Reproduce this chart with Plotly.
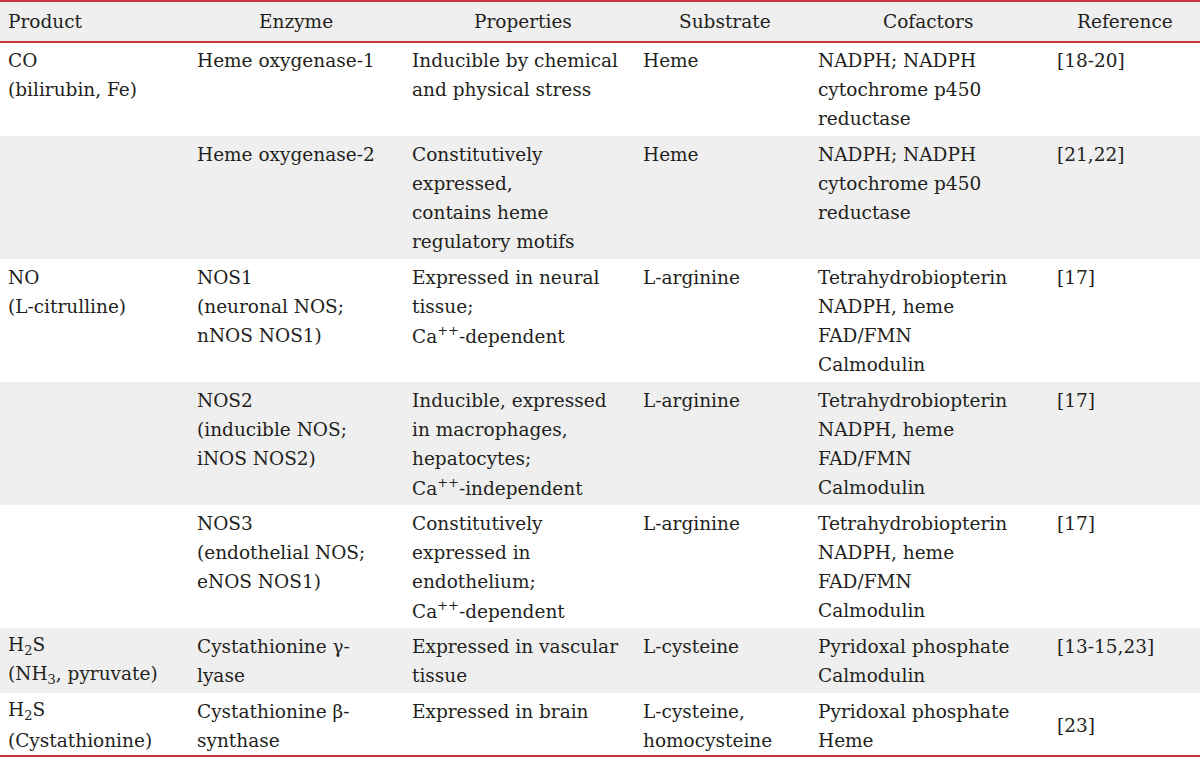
import plotly.graph_objects as go

# ---- data ----
headers = ["Product", "Enzyme", "Properties", "Substrate", "Cofactors", "Reference"]
products = ["CO<br>(bilirubin, Fe)", "", "NO<br>(L-citrulline)", "", "",
            "H<sub>2</sub>S<br>(NH<sub>3</sub>, pyruvate)", "H<sub>2</sub>S<br>(Cystathionine)"]
enzymes = ["Heme oxygenase-1", "Heme oxygenase-2",
           "NOS1<br>(neuronal NOS;<br>nNOS NOS1)",
           "NOS2<br>(inducible NOS;<br>iNOS NOS2)",
           "NOS3<br>(endothelial NOS;<br>eNOS NOS1)",
           "Cystathionine γ-<br>lyase", "Cystathionine β-<br>synthase"]
properties = ["Inducible by chemical<br>and physical stress",
              "Constitutively<br>expressed,<br>contains heme<br>regulatory motifs",
              "Expressed in neural<br>tissue;<br>Ca<sup>++</sup>-dependent",
              "Inducible, expressed<br>in macrophages,<br>hepatocytes;<br>Ca<sup>++</sup>-independent",
              "Constitutively<br>expressed in<br>endothelium;<br>Ca<sup>++</sup>-dependent",
              "Expressed in vascular<br>tissue", "Expressed in brain"]
substrates = ["Heme", "Heme", "L-arginine", "L-arginine", "L-arginine", "L-cysteine",
              "L-cysteine,<br>homocysteine"]
cofactors = ["NADPH; NADPH<br>cytochrome p450<br>reductase",
             "NADPH; NADPH<br>cytochrome p450<br>reductase",
             "Tetrahydrobiopterin<br>NADPH, heme<br>FAD/FMN<br>Calmodulin",
             "Tetrahydrobiopterin<br>NADPH, heme<br>FAD/FMN<br>Calmodulin",
             "Tetrahydrobiopterin<br>NADPH, heme<br>FAD/FMN<br>Calmodulin",
             "Pyridoxal phosphate<br>Calmodulin", "Pyridoxal phosphate<br>Heme"]
references = ["[18-20]", "[21,22]", "[17]", "[17]", "[17]", "[13-15,23]", "[23]"]
ref_valign = ["top", "top", "top", "top", "top", "top", "middle"]

columns = [products, enzymes, properties, substrates, cofactors, references]

# ---- layout parameters ----
W, H = 1200, 760
col_edges = [0, 190, 402, 644, 806, 1050, 1200]
pads = [6, 5, 8, -3, 10, 5]
header_top, header_bot = 1, 42
line_h = 29
first_off = 18
row_extra = 7
bottom = 756
FONT = "DejaVu Serif"
FS = 18.5
TXT = "#231f20"
GRAY = "#efefef"
RED = "#c9363e"

fig = go.Figure()
shapes = []
ann = []

# header
shapes.append(dict(type="rect", x0=0, x1=W, y0=header_top, y1=header_bot,
                   fillcolor=GRAY, line_width=0, layer="below"))
for i, h in enumerate(headers):
    if i == 0:
        x, xa = col_edges[0] + pads[0], "left"
    else:
        x, xa = (col_edges[i] + col_edges[i + 1]) / 2, "center"
    ann.append(dict(x=x, y=(header_top + header_bot) / 2, text=h, xanchor=xa,
                    yanchor="middle", showarrow=False,
                    font=dict(family=FONT, size=FS, color=TXT)))

# rows
y = header_bot
n_rows = len(products)
for r in range(n_rows):
    nlines = max(len(col[r].split("<br>")) for col in columns)
    h = line_h * nlines + row_extra
    y1 = min(y + h, bottom)
    if r % 2 == 1:
        shapes.append(dict(type="rect", x0=0, x1=W, y0=y, y1=y1,
                           fillcolor=GRAY, line_width=0, layer="below"))
    for c, col in enumerate(columns):
        lines = col[r].split("<br>") if col[r] else []
        if c == 5 and ref_valign[r] == "middle":
            start = y + first_off + (nlines - len(lines)) * line_h / 2
        else:
            start = y + first_off
        for k, t in enumerate(lines):
            ann.append(dict(x=col_edges[c] + pads[c], y=start + k * line_h, text=t,
                            xanchor="left", yanchor="middle", showarrow=False,
                            font=dict(family=FONT, size=FS, color=TXT)))
    y = y1

# red rules
for yy in [header_top, header_bot, bottom]:
    shapes.append(dict(type="line", x0=0, x1=W, y0=yy, y1=yy,
                       line=dict(color=RED, width=2)))

fig.update_layout(
    width=W, height=H, margin=dict(l=0, r=0, t=0, b=0),
    paper_bgcolor="white", plot_bgcolor="white",
    xaxis=dict(range=[0, W], visible=False, fixedrange=True),
    yaxis=dict(range=[H, 0], visible=False, fixedrange=True),
    shapes=shapes, annotations=ann, showlegend=False,
)
fig.write_html("out.html", config={"displayModeBar": False},
               post_script="document.body.style.margin='0px';document.body.style.overflow='hidden';")
